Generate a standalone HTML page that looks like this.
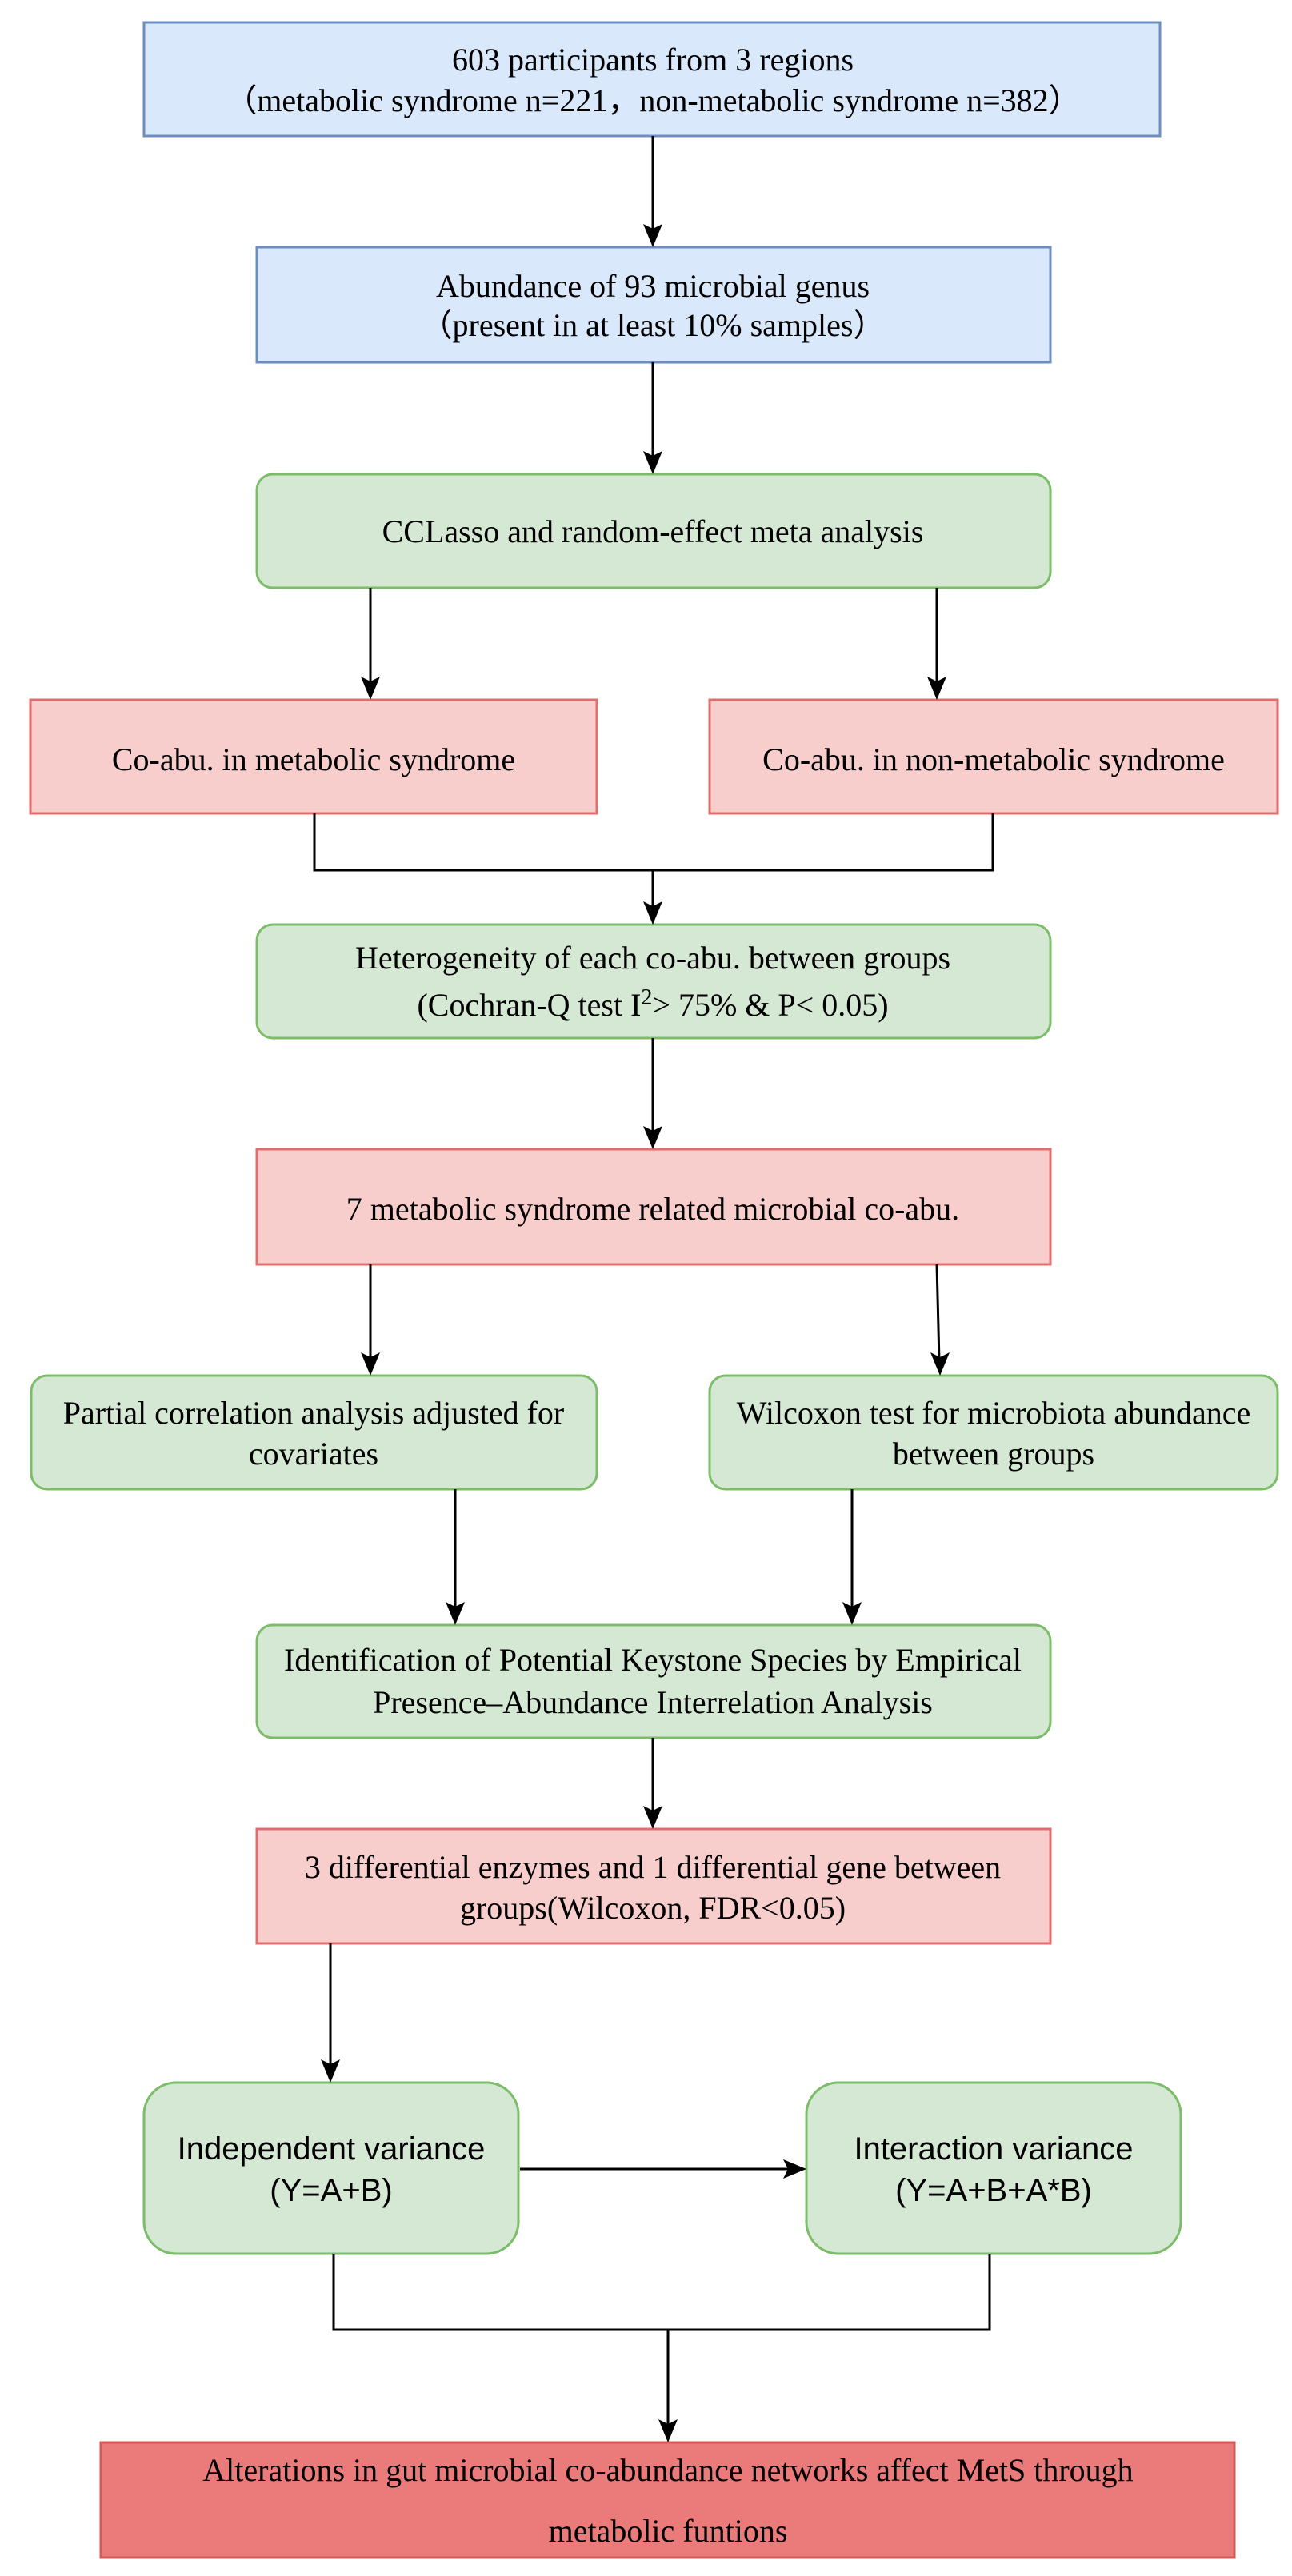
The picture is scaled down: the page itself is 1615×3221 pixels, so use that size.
<!DOCTYPE html>
<html><head><meta charset="utf-8"><style>html,body{margin:0;padding:0;background:#fff}svg{display:block}</style></head>
<body>
<svg width="1615" height="3221" viewBox="0 0 1615 3221" xmlns="http://www.w3.org/2000/svg">
<defs>
<marker id="a" viewBox="0 0 20 20" refX="18" refY="10" markerWidth="9" markerHeight="9" markerUnits="userSpaceOnUse" orient="auto">
</marker>
</defs>
<style>
.t{font-family:"Liberation Serif",serif;font-size:40px;fill:#000;text-anchor:middle}
.s{font-family:"Liberation Sans",sans-serif;font-size:40px;fill:#000;text-anchor:middle}
.l{stroke:#000;stroke-width:3;fill:none}
.bl{fill:#dae8fc;stroke:#6c8ebf;stroke-width:3}
.gr{fill:#d5e8d4;stroke:#7dbd6a;stroke-width:3}
.pk{fill:#f8cecc;stroke:#e06e6e;stroke-width:3}
.rd{fill:#eb7b7a;stroke:#d05a5a;stroke-width:3}
</style>

<!-- boxes -->
<rect class="bl" x="180" y="28" width="1270" height="142"/>
<text class="t" x="816" y="88">603 participants from 3 regions</text>
<text class="t" x="816" y="139">（metabolic syndrome n=221，non-metabolic syndrome n=382）</text>

<rect class="bl" x="321" y="309" width="992" height="144"/>
<text class="t" x="816" y="371">Abundance of 93 microbial genus</text>
<text class="t" x="816" y="420">（present in at least 10% samples）</text>

<rect class="gr" x="321" y="593" width="992" height="142" rx="20"/>
<text class="t" x="816" y="678">CCLasso and random-effect meta analysis</text>

<rect class="pk" x="38" y="875" width="708" height="142"/>
<text class="t" x="392" y="963">Co-abu. in metabolic syndrome</text>
<rect class="pk" x="887" y="875" width="710" height="142"/>
<text class="t" x="1242" y="963">Co-abu. in non-metabolic syndrome</text>

<rect class="gr" x="321" y="1156" width="992" height="142" rx="20"/>
<text class="t" x="816" y="1211">Heterogeneity of each co-abu. between groups</text>
<text class="t" x="816" y="1270">(Cochran-Q test I<tspan dy="-14" font-size="28">2</tspan><tspan dy="14">&gt; 75% &amp; P&lt; 0.05)</tspan></text>

<rect class="pk" x="321" y="1437" width="992" height="144"/>
<text class="t" x="816" y="1525">7 metabolic syndrome related microbial co-abu.</text>

<rect class="gr" x="39" y="1720" width="707" height="142" rx="20"/>
<text class="t" x="392" y="1780">Partial correlation analysis adjusted for</text>
<text class="t" x="392" y="1831">covariates</text>
<rect class="gr" x="887" y="1720" width="710" height="142" rx="20"/>
<text class="t" x="1242" y="1780">Wilcoxon test for microbiota abundance</text>
<text class="t" x="1242" y="1831">between groups</text>

<rect class="gr" x="321" y="2032" width="992" height="141" rx="20"/>
<text class="t" x="816" y="2089">Identification of Potential Keystone Species by Empirical</text>
<text class="t" x="816" y="2142">Presence–Abundance Interrelation Analysis</text>

<rect class="pk" x="321" y="2287" width="992" height="143"/>
<text class="t" x="816" y="2348">3 differential enzymes and 1 differential gene between</text>
<text class="t" x="816" y="2399">groups(Wilcoxon, FDR&lt;0.05)</text>

<rect class="gr" x="180" y="2604" width="468" height="214" rx="40"/>
<text class="s" x="414" y="2700">Independent variance</text>
<text class="s" x="414" y="2752">(Y=A+B)</text>
<rect class="gr" x="1008" y="2604" width="468" height="214" rx="40"/>
<text class="s" x="1242" y="2700">Interaction variance</text>
<text class="s" x="1242" y="2752">(Y=A+B+A*B)</text>

<rect class="rd" x="126" y="3054" width="1417" height="144"/>
<text class="t" x="835" y="3102">Alterations in gut microbial co-abundance networks affect MetS through</text>
<text class="t" x="835" y="3178">metabolic funtions</text>

<!-- connectors -->
<g class="l">
<line x1="816" y1="170" x2="816" y2="290"/>
<line x1="816" y1="453" x2="816" y2="574"/>
<line x1="463" y1="735" x2="463" y2="856"/>
<line x1="1171" y1="735" x2="1171" y2="856"/>
<polyline points="393,1017 393,1088 1241,1088 1241,1017"/>
<line x1="816" y1="1088" x2="816" y2="1137"/>
<line x1="816" y1="1298" x2="816" y2="1418"/>
<line x1="463" y1="1581" x2="463" y2="1701"/>
<line x1="1171" y1="1581" x2="1174" y2="1701"/>
<line x1="569" y1="1862" x2="569" y2="2013"/>
<line x1="1065" y1="1862" x2="1065" y2="2013"/>
<line x1="816" y1="2173" x2="816" y2="2268"/>
<line x1="413" y1="2430" x2="413" y2="2585"/>
<line x1="650" y1="2712" x2="990" y2="2712"/>
<polyline points="417,2818 417,2913 1237,2913 1237,2818"/>
<line x1="835" y1="2913" x2="835" y2="3035"/>
</g>
<g fill="#000">
<polygon points="804,280 816,286 828,280 816,309"/>
<polygon points="804,564 816,570 828,564 816,593"/>
<polygon points="451,846 463,852 475,846 463,875"/>
<polygon points="1159,846 1171,852 1183,846 1171,875"/>
<polygon points="804,1127 816,1133 828,1127 816,1156"/>
<polygon points="804,1408 816,1414 828,1408 816,1437"/>
<polygon points="451,1691 463,1697 475,1691 463,1720"/>
<polygon points="1163,1691 1175,1697 1187,1691 1175,1720"/>
<polygon points="557,2003 569,2009 581,2003 569,2032"/>
<polygon points="1053,2003 1065,2009 1077,2003 1065,2032"/>
<polygon points="804,2258 816,2264 828,2258 816,2287"/>
<polygon points="401,2575 413,2581 425,2575 413,2604"/>
<polygon points="979,2700 985,2712 979,2724 1008,2712"/>
<polygon points="823,3025 835,3031 847,3025 835,3054"/>
</g>
</svg>
</body></html>
